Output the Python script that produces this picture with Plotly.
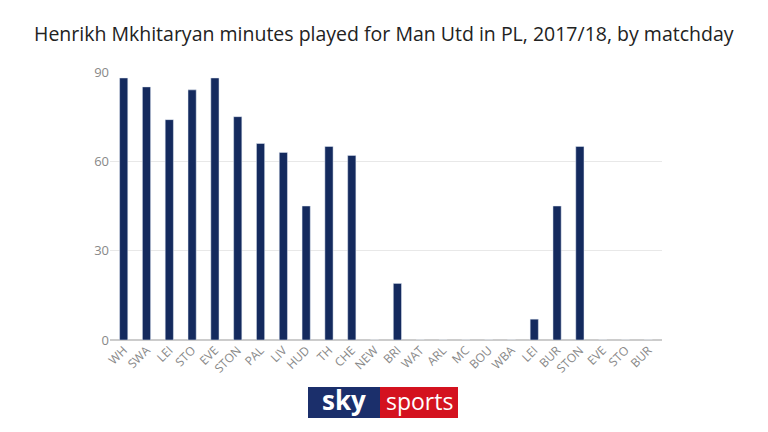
import plotly.graph_objects as go

opponents = ["WH","SWA","LEI","STO","EVE","STON","PAL","LIV","HUD","TH","CHE","NEW",
             "BRI","WAT","ARL","MC","BOU","WBA","LEI","BUR","STON","EVE","STO","BUR"]
minutes = [88,85,74,84,88,75,66,63,45,65,62,0,19,0,0,0,0,0,7,45,65,0,0,0]
matchday = list(range(len(opponents)))

W, H = 752, 416
L, R, T, B = 102, 98, 64, 84
PW, PH = W - L - R, H - T - B

def px(x):
    return (x - 8 - L) / PW

def py(y):
    return 1 - (y - 8 - T) / PH

fig = go.Figure(go.Bar(x=matchday, y=minutes, marker_color="#142a5e", width=0.36))
fig.update_layout(
    width=W, height=H, paper_bgcolor="white", plot_bgcolor="white",
    margin=dict(l=L, r=R, t=T, b=B),
    font=dict(family="Open Sans", color="#888"),
    showlegend=False,
)
fig.add_annotation(text="Henrikh Mkhitaryan minutes played for Man Utd in PL, 2017/18, by matchday",
                   xref="paper", yref="paper", x=px(384), y=py(33), showarrow=False,
                   xanchor="center", yanchor="middle",
                   font=dict(family="Open Sans", size=19.5, color="#222"))
fig.update_xaxes(tickvals=matchday, ticktext=opponents, tickangle=-45, range=[-0.6, 23.6],
                 tickfont=dict(size=12, color="#888"), showgrid=False, ticks="", showline=False)
fig.update_yaxes(range=[0, 90], tickvals=[0,30,60,90], gridcolor="#e8e8e8", zeroline=True,
                 zerolinecolor="#cccccc", tickfont=dict(size=13, color="#888"), ticksuffix="   ")
fig.add_shape(type="rect", xref="paper", yref="paper", x0=px(308), x1=px(380),
              y0=py(418), y1=py(387), fillcolor="#1b2f6b", line_width=0)
fig.add_shape(type="rect", xref="paper", yref="paper", x0=px(380), x1=px(458),
              y0=py(418), y1=py(387), fillcolor="#d4121f", line_width=0)
fig.add_annotation(text="<b>sky</b>", xref="paper", yref="paper", x=px(344), y=py(400),
                   xanchor="center", yanchor="middle",
                   showarrow=False, font=dict(family="Open Sans", size=26, color="white"))
fig.add_annotation(text="sports", xref="paper", yref="paper", x=px(419), y=py(401),
                   xanchor="center", yanchor="middle",
                   showarrow=False, font=dict(family="Open Sans", size=23, color="white"))
fig.write_html("out.html")
